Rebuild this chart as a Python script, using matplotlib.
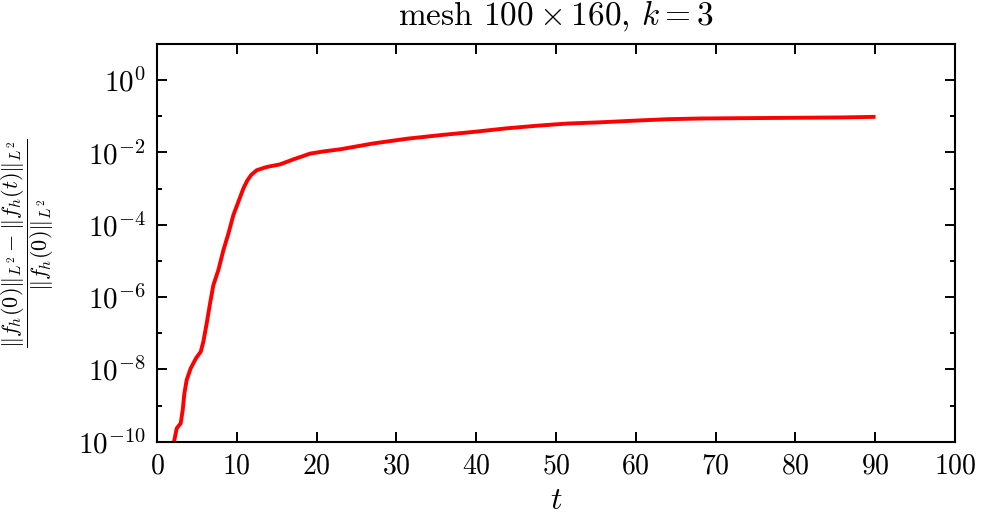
import numpy as np
import matplotlib
matplotlib.use("Agg")
import matplotlib.pyplot as plt
from matplotlib.ticker import FixedLocator, FuncFormatter

# =========================
# DATA
# =========================
t_values = [1.9, 2.13, 2.47, 2.97, 3.22, 3.43, 3.72, 4.22, 4.89, 5.48, 5.81,
            6.23, 6.65, 7.06, 7.69, 8.32, 8.95, 9.57, 10.2, 10.83, 11.3,
            11.8, 12.5, 13.76, 15.4, 17.1, 19.2, 20.9, 23.0, 27.1, 31.3,
            35.5, 39.7, 43.9, 47.6, 51.4, 55.6, 59.8, 63.9, 68.1, 74.0,
            80.0, 86.0, 89.8]
log_err = [-10.3, -10.0, -9.63, -9.49, -9.12, -8.66, -8.29, -7.97, -7.69,
           -7.51, -7.23, -6.72, -6.17, -5.67, -5.25, -4.70, -4.24, -3.73,
           -3.36, -2.99, -2.78, -2.62, -2.49, -2.40, -2.33, -2.19, -2.03,
           -1.97, -1.91, -1.75, -1.62, -1.52, -1.43, -1.33, -1.26, -1.20,
           -1.165, -1.12, -1.08, -1.06, -1.05, -1.04, -1.03, -1.015]
err_values = [10.0 ** v for v in log_err]

x_ticks = [0, 10, 20, 30, 40, 50, 60, 70, 80, 90, 100]
y_major = [1e-10, 1e-8, 1e-6, 1e-4, 1e-2, 1e0]
y_minor = [1e-9, 1e-7, 1e-5, 1e-3, 1e-1]

# =========================
# STYLE
# =========================
plt.rcParams["font.family"] = "serif"
plt.rcParams["font.serif"] = ["cmr10", "DejaVu Serif"]
plt.rcParams["mathtext.fontset"] = "cm"
plt.rcParams["axes.formatter.use_mathtext"] = True
plt.rcParams["axes.unicode_minus"] = False

fig = plt.figure(figsize=(9.82, 5.21), dpi=100)
ax = fig.add_axes([0.1599, 0.1522, 0.8126, 0.7633])

ax.plot(t_values, err_values, color="#ff0000", linewidth=2.8,
        solid_joinstyle="round")

ax.set_yscale("log")
ax.set_xlim(0, 100)
ax.set_ylim(1e-10, 1e1)

ax.xaxis.set_major_locator(FixedLocator(x_ticks))
ax.xaxis.set_major_formatter(FuncFormatter(lambda v, p: r"$%d$" % v))
ax.yaxis.set_major_locator(FixedLocator(y_major))
ax.yaxis.set_minor_locator(FixedLocator(y_minor))
ax.yaxis.set_major_formatter(
    FuncFormatter(lambda v, p: r"$10^{%d}$" % int(round(np.log10(v)))))
ax.yaxis.set_minor_formatter(FuncFormatter(lambda v, p: ""))

ax.tick_params(which="both", direction="in", top=True, right=True,
               width=1.4)
ax.tick_params(which="major", length=7, pad=8)
ax.tick_params(which="minor", length=3.5)
ax.tick_params(axis="x", labelsize=20)
ax.tick_params(axis="y", labelsize=21)
for s in ax.spines.values():
    s.set_linewidth(1.5)

ax.set_title(r"mesh $100 \times 160$, $k = 3$", fontsize=24, pad=14)
ax.set_xlabel(r"$t$", fontsize=23, labelpad=6)
ax.set_ylabel(r"$\dfrac{\|f_h(0)\|_{L^2} - \|f_h(t)\|_{L^2}}{\|f_h(0)\|_{L^2}}$",
              fontsize=16)
ax.yaxis.set_label_coords(-0.127, 0.5)

fig.savefig("out.png", dpi=100)
